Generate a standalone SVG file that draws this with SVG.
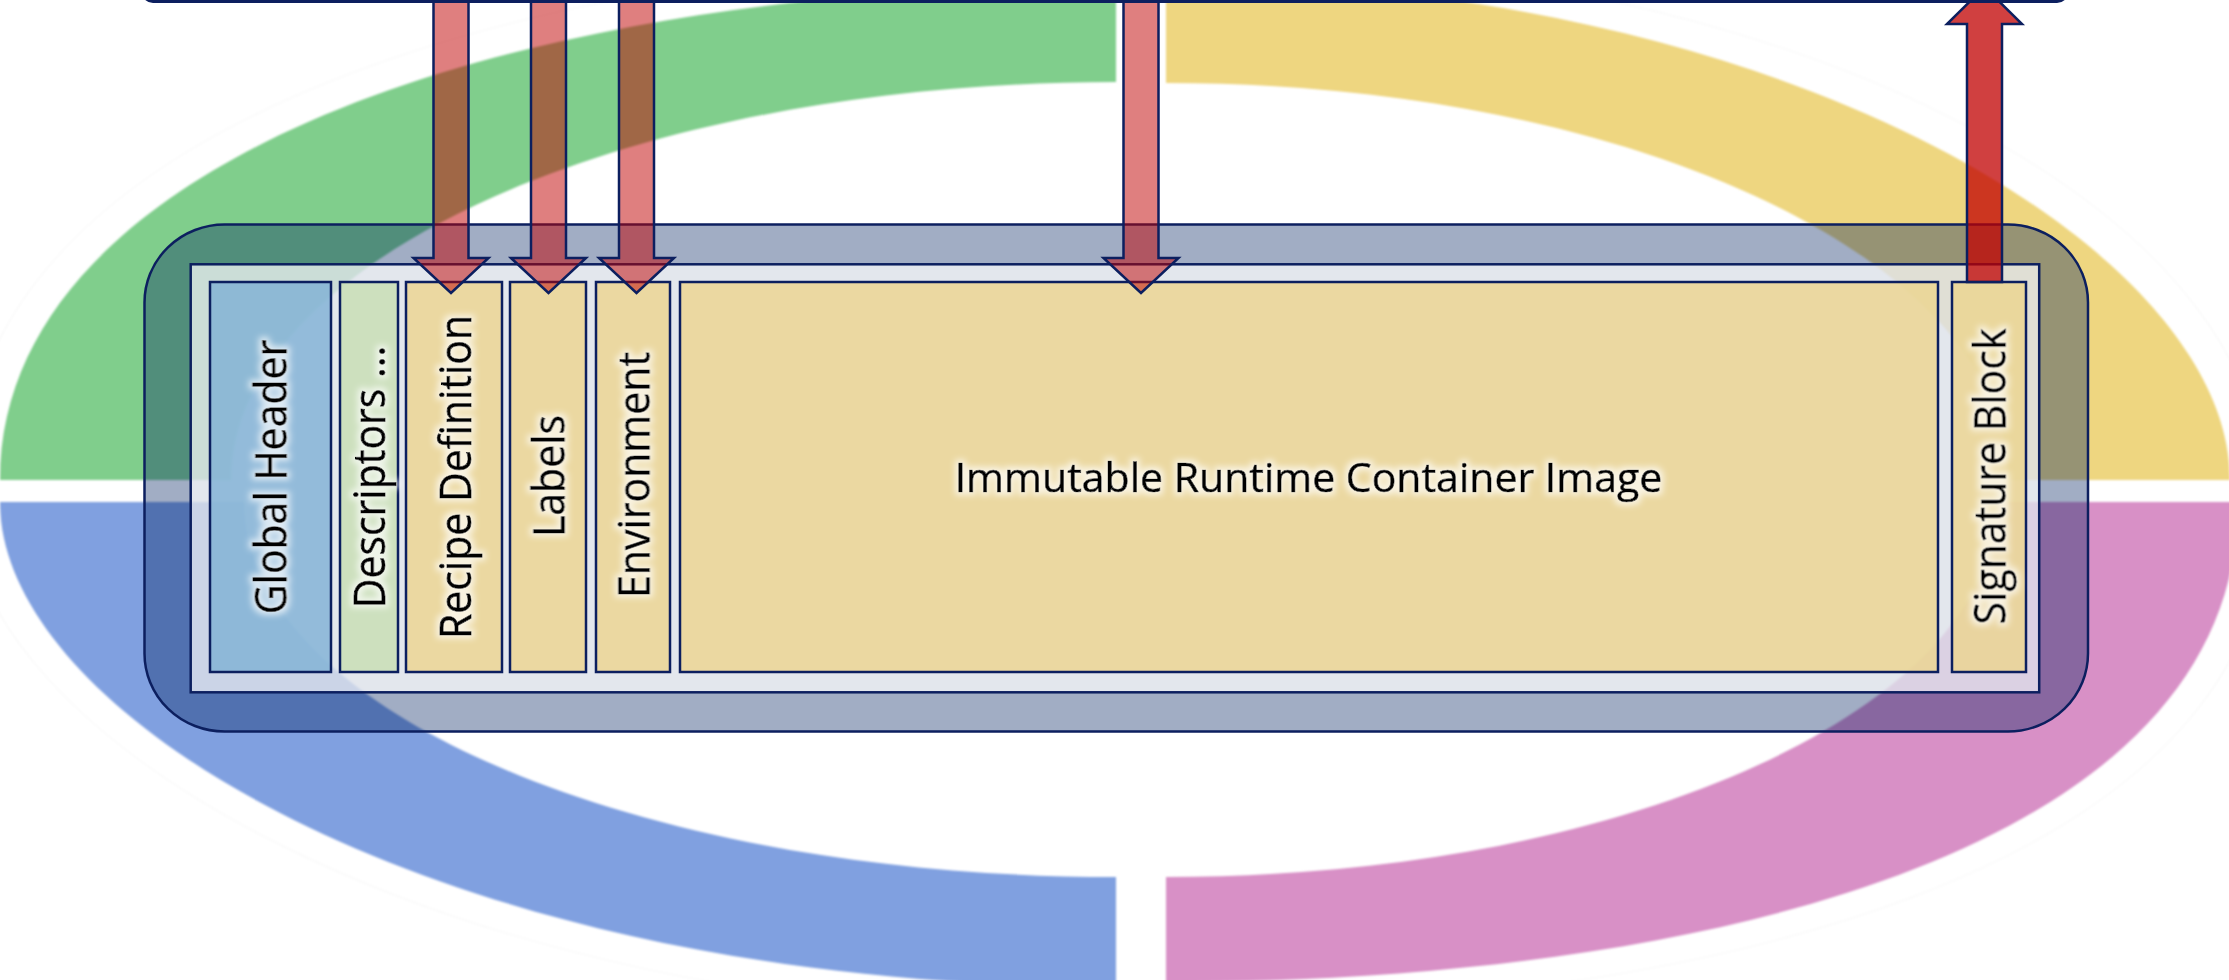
<svg xmlns="http://www.w3.org/2000/svg" width="2229" height="980" viewBox="0 0 2229 980">
  <style>
    .quad { stroke: none; }
    .ghost { fill: none; stroke: #000; stroke-opacity: 0.025; stroke-width: 1.5; }
    .frame { fill: #002060; fill-opacity: 0.37; stroke: #0c1f5f; stroke-width: 2.5; }
    .panel { fill: #ffffff; fill-opacity: 0.7; stroke: #0c1f5f; stroke-width: 2.5; }
    .cell { stroke: #0c1f5f; stroke-width: 2.5; fill-opacity: 0.8; }
    .hdr { fill: #7eb0d4; }
    .dsc { fill: #c7dfb1; }
    .sec { fill: #ecd58d; }
    .lbl { font-family: "Open Sans", "Noto Sans", "Liberation Sans", sans-serif; font-size: 41px; fill: #000; stroke: #000; stroke-width: 0.7; text-anchor: middle; filter: url(#halo); }
    .flow { fill: #c00000; fill-opacity: 0.5; stroke: #0c1f5f; stroke-width: 2.5; stroke-linejoin: miter; }
    .flow-up { fill: #c00000; fill-opacity: 0.75; stroke: #0c1f5f; stroke-width: 2.5; stroke-linejoin: miter; }
  </style>
  <defs>
    <filter id="soften" x="-2%" y="-2%" width="104%" height="104%">
      <feGaussianBlur stdDeviation="0.9"/>
    </filter>
    <filter id="halo" x="-15%" y="-40%" width="130%" height="180%">
      <feMorphology in="SourceAlpha" operator="dilate" radius="2.5" result="thick"/>
      <feGaussianBlur in="thick" stdDeviation="3" result="soft"/>
      <feFlood flood-color="#ffffff" flood-opacity="0.7"/>
      <feComposite in2="soft" operator="in" result="glow"/>
      <feMerge>
        <feMergeNode in="glow"/>
        <feMergeNode in="SourceGraphic"/>
      </feMerge>
    </filter>
  </defs>

  <rect width="2229" height="980" fill="#ffffff"/>

  <!-- four quadrant bands of the background ring -->
  <g id="ring" filter="url(#soften)">
    <path id="ring-green" class="quad" fill="#80ce8c" d="M 0,480 C 0,163 502,-15 1116,-15 L 1116,82 C 627,82 231,260 231,480 Z"/>
    <path id="ring-yellow" class="quad" fill="#eed680" d="M 2230,480 C 2230,250 1783,-20 1166,-20 L 1166,83 C 1632,83 2009,261 2009,480 Z"/>
    <path id="ring-blue" class="quad" fill="#80a0e0" d="M 0,502 C 0,720 446,987 1116,987 L 1116,877 C 634,877 244,709 244,502 Z"/>
    <path id="ring-pink" class="quad" fill="#d890c6" d="M 2238,502 C 2238,866 1666,982 1166,982 L 1166,877 C 1625,877 1997,709 1997,502 Z"/>
    <path class="ghost" d="M -34,480 C -34,145 486,-45 1116,-45"/>
    <path class="ghost" d="M 2261,480 C 2261,215 1801,-45 1166,-45"/>
    <path class="ghost" d="M -34,502 C -34,732 426,1017 1116,1017"/>
    <path class="ghost" d="M 2270,502 C 2270,880 1680,1010 1166,1010"/>
  </g>

  <!-- container file outline -->
  <g id="container">
    <rect id="container-frame" class="frame" x="144.5" y="224.5" width="1943.5" height="507" rx="80" ry="78"/>
    <rect id="container-panel" class="panel" x="190.7" y="264.3" width="1848.5" height="428"/>
  </g>

  <g id="global-header">
    <rect class="cell hdr" x="210" y="282" width="121" height="390"/>
    <text class="lbl" transform="translate(270.5,477) rotate(-90) scale(1,1.09)" x="0" y="14.6">Global Header</text>
  </g>
  <g id="descriptors">
    <rect class="cell dsc" x="340" y="282" width="58" height="390"/>
    <text class="lbl" transform="translate(369,477) rotate(-90) scale(1,1.09)" x="0" y="14.6">Descriptors ...</text>
  </g>
  <g id="recipe-definition">
    <rect class="cell sec" x="406" y="282" width="96" height="390"/>
    <text class="lbl" transform="translate(455,477) rotate(-90) scale(1,1.09)" x="0" y="14.6">Recipe Definition</text>
  </g>
  <g id="labels">
    <rect class="cell sec" x="510" y="282" width="76" height="390"/>
    <text class="lbl" transform="translate(548.5,476) rotate(-90) scale(1,1.09)" x="0" y="14.6">Labels</text>
  </g>
  <g id="environment">
    <rect class="cell sec" x="596" y="282" width="74" height="390"/>
    <text class="lbl" transform="translate(633.5,475) rotate(-90) scale(1,1.09)" x="0" y="14.6">Environment</text>
  </g>
  <g id="runtime-image">
    <rect class="cell sec" x="680" y="282" width="1258" height="390"/>
    <text class="lbl" x="1308.5" y="492">Immutable Runtime Container Image</text>
  </g>
  <g id="signature-block">
    <rect class="cell sec" x="1952" y="282" width="74" height="390"/>
    <text class="lbl" transform="translate(1989.5,476.5) rotate(-90) scale(1,1.09)" x="0" y="14.6">Signature Block</text>
  </g>

  <!-- data flows into and out of the container -->
  <g id="connectors">
    <path class="flow" d="M 433.5,-10 L 468.5,-10 L 468.5,258 L 488.5,258 L 451,293 L 413.5,258 L 433.5,258 Z"/>
    <path class="flow" d="M 531,-10 L 566,-10 L 566,258 L 586,258 L 548.5,293 L 511,258 L 531,258 Z"/>
    <path class="flow" d="M 619,-10 L 654,-10 L 654,258 L 674,258 L 636.5,293 L 599,258 L 619,258 Z"/>
    <path class="flow" d="M 1123.5,-10 L 1158.5,-10 L 1158.5,258 L 1178.5,258 L 1141,293 L 1103.5,258 L 1123.5,258 Z"/>
    <path class="flow-up" d="M 1967,282 L 1967,24 L 1947,24 L 1984.5,-13 L 2022,24 L 2002,24 L 2002,282 Z"/>
  </g>

  <!-- lower edge of the source block above -->
  <g id="source-block">
    <rect x="143" y="-60" width="1924" height="61.5" rx="10" fill="none" stroke="#0c1f5f" stroke-width="3"/>
  </g>
</svg>
